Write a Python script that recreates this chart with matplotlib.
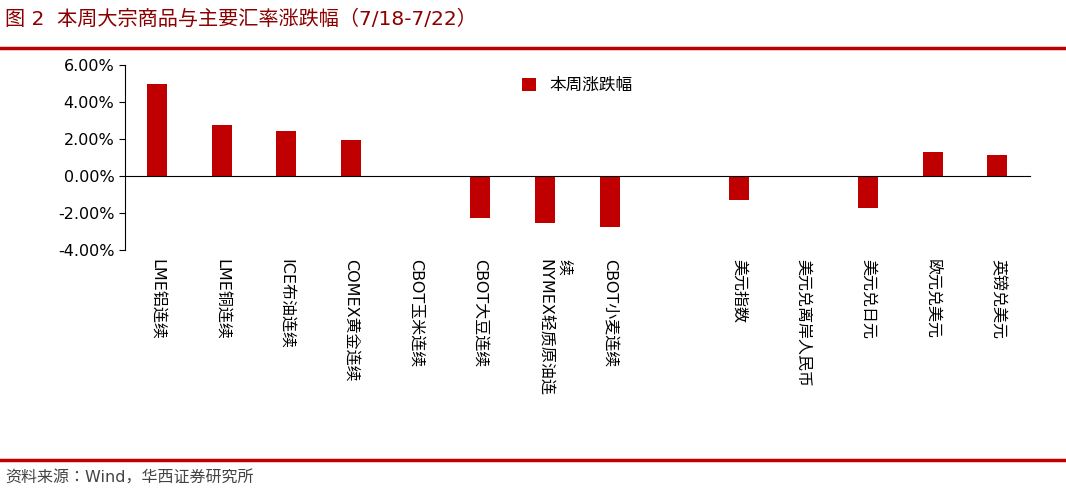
import matplotlib
matplotlib.use("Agg")
import matplotlib.pyplot as plt
from matplotlib.ticker import FuncFormatter
import numpy as np

categories = ["LME铝连续", "LME铜连续", "ICE布油连续", "COMEX黄金连续", "CBOT玉米连续",
              "CBOT大豆连续", "NYMEX轻质原油连\n续", "CBOT小麦连续", "",
              "美元指数", "美元兑离岸人民币", "美元兑日元", "欧元兑美元", "英镑兑美元"]
values = [4.95, 2.78, 2.42, 1.93, -0.08, -2.28, -2.55, -2.75, np.nan,
          -1.30, -0.02, -1.75, 1.28, 1.15]
series_name = "本周涨跌幅"
title = "图 2  本周大宗商品与主要汇率涨跌幅（7/18-7/22）"
source = "资料来源：Wind，华西证券研究所"

plt.rcParams["font.family"] = ["DejaVu Sans", "Noto Sans CJK JP", "Noto Sans CJK SC"]
red = "#C00000"
fig = plt.figure(figsize=(10.66, 4.92), dpi=100)
ax = fig.add_axes([0.117, 0.492, 0.849, 0.376])
x = np.arange(len(categories))
ax.bar(x, values, width=0.31, color=red, label=series_name)
ax.set_xlim(-0.5, len(categories) - 0.5)
ax.set_ylim(-4, 6)
ax.set_yticks(np.arange(-4, 7, 2))
ax.yaxis.set_major_formatter(FuncFormatter(lambda v, p: f"{v:.2f}%"))
ax.tick_params(axis="y", labelsize=11.5, direction="out", length=4)
for s in ["top", "right"]:
    ax.spines[s].set_visible(False)
ax.spines["bottom"].set_position(("data", 0))
ax.set_xticks(x)
ax.set_xticklabels([])
ax.tick_params(axis="x", length=0)
for xi, lab in zip(x, categories):
    for k, line in enumerate(lab.split("\n")):
        ax.text(xi + k * 0.3, -4.5, line, rotation=270, ha="center", va="top", fontsize=11.5)
ax.legend(loc="upper center", bbox_to_anchor=(0.5, 1.02), frameon=False, fontsize=12,
          handlelength=0.8, handleheight=0.8)

fig.text(0.005, 0.962, title, fontsize=14.5, color="#8B0000", va="center")
fig.add_artist(plt.Line2D([0, 1], [0.902, 0.902], color=red, lw=2.5))
fig.add_artist(plt.Line2D([0, 1], [0.065, 0.065], color=red, lw=2.5))
fig.text(0.005, 0.028, source, fontsize=11.5, color="#444444", va="center")
fig.savefig("out.png", dpi=100)
